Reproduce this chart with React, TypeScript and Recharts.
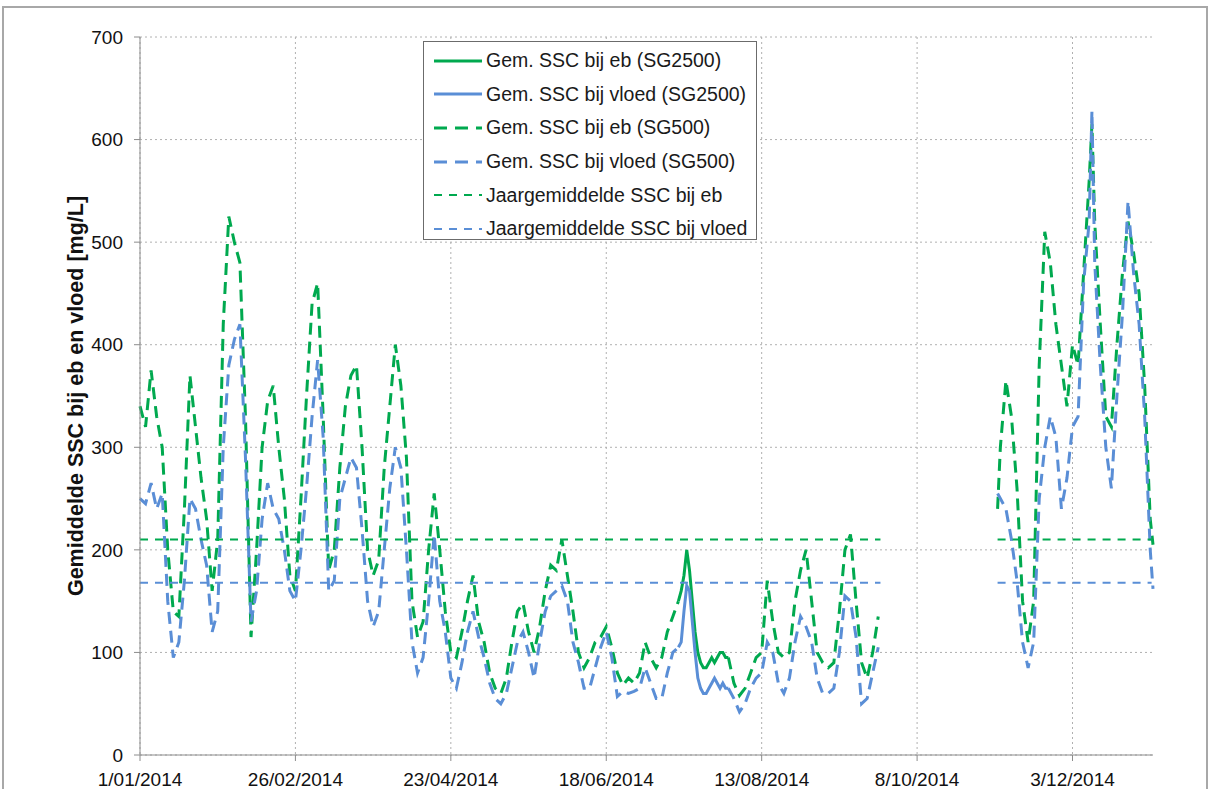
import React from 'react';
import { LineChart, Line, XAxis, YAxis, CartesianGrid } from 'recharts';

const GREEN = '#00a94f';
const BLUE = '#5a8ed6';
const FONT = '"Liberation Sans", Arial, sans-serif';

// x = dagen sinds 1/01/2014
const tickDays = [0, 56, 112, 168, 224, 280, 336];
const tickLabels = ['1/01/2014', '26/02/2014', '23/04/2014', '18/06/2014', '13/08/2014', '8/10/2014', '3/12/2014'];
const yTicks = [0, 100, 200, 300, 400, 500, 600, 700];

// SG500 (null = onderbreking)
const sg500Days = [
  0, 2, 4, 6, 8, 10, 12, 14, 16, 18, 20, 22, 24, 26, 28, 30, 32, 34, 36, 38,
  40, 42, 44, 46, 48, 50, 52, 54, 56, 58, 60, 62, 64, 66, 68, 70, 72, 74, 76, 78,
  80, 82, 84, 86, 88, 90, 92, 94, 96, 98, 100, 102, 104, 106, 108, 110, 112, 114, 116, 118,
  120, 122, 124, 126, 128, 130, 132, 134, 136, 138, 140, 142, 144, 146, 148, 150, 152, 154, 156, 158,
  160, 162, 164, 166, 168, 170, 172, 174, 176, 178, 180, 182, 184, 186, 188, 190, 192, 194,
  203,
  212, 214, 216, 218, 220, 222, 224, 226, 228, 230, 232, 234, 236, 238, 240, 242, 244, 246, 248, 250,
  252, 254, 256, 258, 260, 262, 264, 266,
  287,
  309, 310, 312, 314, 316, 318, 320, 322, 324, 326, 328, 330, 332, 334, 336, 338, 340, 342, 343, 344,
  346, 348, 350, 352, 354, 356, 358, 360, 362, 364, 365,
];
const sg500Eb = [
  340, 320, 375, 330, 300, 200, 140, 135, 240, 370, 320, 270, 230, 160, 210, 420, 525, 500, 480, 330,
  115, 200, 300, 345, 360, 300, 250, 175, 160, 250, 350, 440, 460, 330, 180, 200, 280, 340, 370, 380,
  300, 200, 175, 190, 280, 340, 400, 360, 290, 150, 115, 130, 200, 255, 200, 140, 100, 95, 120, 150,
  175, 130, 110, 80, 65, 60, 75, 110, 140, 148, 120, 100, 125, 160, 185, 180, 210, 175, 140, 100,
  85, 95, 110, 115, 125, 105, 80, 68, 75, 70, 80, 110, 95, 85, 95, 120, 135, 150,
  null,
  95, 70, 58, 65, 80, 95, 100, 170, 130, 100, 95, 100, 150, 180, 200, 150, 100, 90, 85, 90,
  140, 200, 215, 150, 90, 75, 100, 135,
  null,
  240, 300, 365, 330, 260, 150, 110, 150, 380, 510, 480, 420, 380, 340, 400, 380, 470, 560, 615, 520,
  420, 330, 320, 400, 470, 520, 490, 450, 360, 230, 205,
];
const sg500Vloed = [
  250, 245, 265, 240, 255, 150, 95, 110, 170, 250, 240, 210, 185, 120, 140, 300, 380, 405, 420, 290,
  130, 160, 230, 265, 240, 230, 200, 160, 150, 200, 260, 330, 385, 310, 160, 170, 250, 270, 290, 280,
  220, 150, 125, 140, 200, 260, 300, 280, 200, 110, 80, 95, 150, 215, 150, 120, 75, 65, 90, 120,
  140, 115, 95, 70, 55, 50, 60, 85, 110, 120, 100, 75, 110, 140, 155, 160, 165, 150, 110, 90,
  65, 65, 85, 105, 120, 95, 57, 62, 60, 62, 65, 85, 70, 55, 55, 80, 100, 105,
  null,
  65, 55, 42, 50, 65, 75, 80, 110, 100, 70, 60, 75, 110, 135, 125, 110, 75, 60, 60, 65,
  100, 155, 150, 115, 50, 55, 80, 105,
  null,
  255, 250, 240, 210, 170, 110, 85, 110, 250, 300, 330, 310, 240, 270, 320, 330, 460, 520, 628, 480,
  380, 300, 260, 350, 430, 540, 470, 420, 330, 200, 162,
];

// SG2500, alleen half juli beschikbaar
const sg2500Days = [194, 195, 196, 197, 198, 199, 200, 201, 202, 203, 204, 205, 206, 207, 208, 209, 210, 211, 212];
const sg2500Eb = [150, 160, 175, 200, 180, 150, 120, 100, 90, 85, 85, 90, 95, 90, 95, 100, 100, 95, 95];
const sg2500Vloed = [105, 110, 140, 165, 160, 130, 100, 75, 65, 60, 60, 65, 70, 75, 70, 65, 70, 65, 65];

// jaargemiddelden
const meanDays = [0, 266.8, 287, 309, 364.5];
const meanEb = [210, 210, null, 210, 210];
const meanVloed = [168, 168, null, 168, 168];

const sg500Data = sg500Days.map((day, i) => ({ day, eb: sg500Eb[i], vloed: sg500Vloed[i] }));
const sg2500Data = sg2500Days.map((day, i) => ({ day, eb: sg2500Eb[i], vloed: sg2500Vloed[i] }));
const meanData = meanDays.map((day, i) => ({ day, eb: meanEb[i], vloed: meanVloed[i] }));

const legendRows = [
  { label: 'Gem. SSC bij eb (SG2500)', color: GREEN, dash: undefined, width: 3 },
  { label: 'Gem. SSC bij vloed (SG2500)', color: BLUE, dash: undefined, width: 3 },
  { label: 'Gem. SSC bij eb (SG500)', color: GREEN, dash: '13 8', width: 3 },
  { label: 'Gem. SSC bij vloed (SG500)', color: BLUE, dash: '13 8', width: 3 },
  { label: 'Jaargemiddelde SSC bij eb', color: GREEN, dash: '8 7', width: 2 },
  { label: 'Jaargemiddelde SSC bij vloed', color: BLUE, dash: '8 7', width: 2 },
];

const ChartLegend: React.FC = () => (
  <div
    style={{
      position: 'absolute',
      left: 423,
      top: 41,
      width: 334,
      height: 199,
      boxSizing: 'border-box',
      border: '1.5px solid #6b6b6b',
      background: '#fff',
      padding: '2px 0 0 0',
      fontFamily: FONT,
      fontSize: 19.5,
      color: '#1a1a1a',
    }}
  >
    {legendRows.map((r) => (
      <div key={r.label} style={{ display: 'flex', alignItems: 'center', height: 33.6 }}>
        <svg width={60} height={10} style={{ marginLeft: 8, flex: 'none' }}>
          <line x1={2} y1={5} x2={50} y2={5} stroke={r.color} strokeWidth={r.width} strokeDasharray={r.dash} />
        </svg>
        <span style={{ whiteSpace: 'nowrap', marginLeft: -6 }}>{r.label}</span>
      </div>
    ))}
  </div>
);

const App: React.FC = () => {
  return (
    <div style={{ position: 'absolute', left: 0, top: 0, width: 1213, height: 789, background: '#fff', overflow: 'hidden' }}>
      <div
        style={{
          position: 'absolute',
          left: 2,
          top: 6,
          width: 1202,
          height: 800,
          borderTop: '2px solid #a8a8a8',
          borderLeft: '2px solid #a8a8a8',
          borderRight: '2px solid #a8a8a8',
        }}
      />
      <LineChart width={1213} height={789} margin={{ top: 37, right: 60, left: 0, bottom: 0 }}>
        <CartesianGrid stroke="#b0b0b0" strokeDasharray="2 3" horizontalValues={yTicks} verticalValues={tickDays} />
        <XAxis
          type="number"
          dataKey="day"
          domain={[0, 365]}
          ticks={tickDays}
          interval={0}
          height={34}
          tickSize={6}
          tickMargin={12}
          tickFormatter={(v: number) => tickLabels[tickDays.indexOf(v)] ?? ''}
          stroke="#8c8c8c"
          tick={{ fill: '#111', fontSize: 19, fontFamily: FONT }}
        />
        <YAxis
          type="number"
          domain={[0, 700]}
          ticks={yTicks}
          interval={0}
          width={140}
          tickSize={6}
          tickMargin={11}
          stroke="#8c8c8c"
          tick={{ fill: '#111', fontSize: 19, fontFamily: FONT }}
          label={{
            value: 'Gemiddelde SSC bij eb en vloed [mg/L]',
            angle: -90,
            position: 'insideLeft',
            offset: 75,
            style: { textAnchor: 'middle', fontSize: 21.5, fontWeight: 'bold', fill: '#111', fontFamily: FONT },
          }}
        />
        <Line data={sg2500Data} dataKey="eb" name="Gem. SSC bij eb (SG2500)" stroke={GREEN} strokeWidth={3} dot={false} isAnimationActive={false} />
        <Line data={sg2500Data} dataKey="vloed" name="Gem. SSC bij vloed (SG2500)" stroke={BLUE} strokeWidth={3} dot={false} isAnimationActive={false} />
        <Line data={sg500Data} dataKey="eb" name="Gem. SSC bij eb (SG500)" stroke={GREEN} strokeWidth={3} strokeDasharray="12 7" dot={false} isAnimationActive={false} />
        <Line data={sg500Data} dataKey="vloed" name="Gem. SSC bij vloed (SG500)" stroke={BLUE} strokeWidth={3} strokeDasharray="12 7" dot={false} isAnimationActive={false} />
        <Line data={meanData} dataKey="eb" name="Jaargemiddelde SSC bij eb" stroke={GREEN} strokeWidth={2} strokeDasharray="8 7" dot={false} isAnimationActive={false} />
        <Line data={meanData} dataKey="vloed" name="Jaargemiddelde SSC bij vloed" stroke={BLUE} strokeWidth={2} strokeDasharray="8 7" dot={false} isAnimationActive={false} />
      </LineChart>
      <ChartLegend />
    </div>
  );
};

export default App;
